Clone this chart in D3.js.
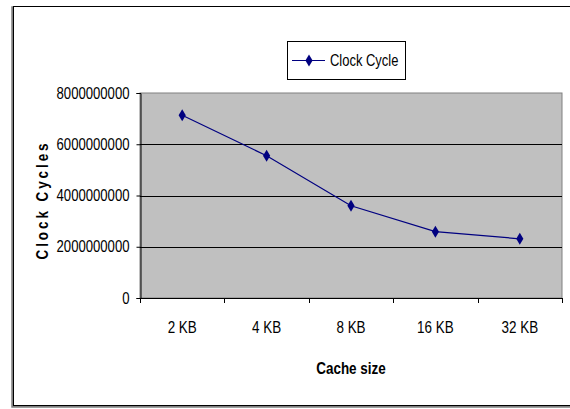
<!DOCTYPE html>
<html>
<head>
<meta charset="utf-8">
<script src="https://cdn.jsdelivr.net/npm/d3@7"></script>
<style>
  body { margin: 0; background: #fff; }
  svg text { font-family: "Liberation Sans", Arial, sans-serif; }
</style>
</head>
<body>
<div id="target"></div>
<script>
const categories = ["2 KB", "4 KB", "8 KB", "16 KB", "32 KB"]
const clockCycles = [7130000000, 5550000000, 3600000000, 2590000000, 2310000000]
const yTicks = [0, 2000000000, 4000000000, 6000000000, 8000000000]
const seriesName = "Clock Cycle"

const width = 570, height = 409
const plot = { left: 140, right: 562, top: 93, bottom: 298 }

const svg = d3.select("#target").append("svg")
    .attr("width", width)
    .attr("height", height)

// narrow look like the original (Arial Narrow not installed)
function squeeze(sel, k) {
    sel.each(function() {
        const len = this.getComputedTextLength()
        d3.select(this).attr("textLength", len * k).attr("lengthAdjust", "spacingAndGlyphs")
    })
}

// outer chart frame (with shadow on left/bottom)
svg.append("rect")
    .attr("x", 12.5).attr("y", 7.5)
    .attr("width", 580).attr("height", 399)
    .attr("fill", "none").attr("stroke", "#808080").attr("stroke-width", 2.5)
svg.append("rect")
    .attr("x", 13.5).attr("y", 6.5)
    .attr("width", 580).attr("height", 399)
    .attr("fill", "#fff").attr("stroke", "#000").attr("stroke-width", 1)

const x = d3.scaleBand()
    .domain(categories)
    .range([plot.left, plot.right])

const y = d3.scaleLinear()
    .domain([0, 8000000000])
    .range([plot.bottom, plot.top])

//Plot area
svg.append("rect")
    .attr("x", plot.left).attr("y", plot.top)
    .attr("width", plot.right - plot.left).attr("height", plot.bottom - plot.top)
    .attr("fill", "#c0c0c0")
    .attr("stroke", "#808080")

//Gridlines
svg.append("g")
    .selectAll("line")
    .data(yTicks.filter(d => d > 0 && d < 8000000000))
    .enter()
    .append("line")
    .attr("x1", plot.left).attr("x2", plot.right)
    .attr("y1", d => Math.round(y(d)) + 0.5).attr("y2", d => Math.round(y(d)) + 0.5)
    .attr("stroke", "#000")

//Y axis
const yAxis = svg.append("g")
    .attr("transform", "translate(" + (plot.left + 0.5) + ",0)")
    .call(d3.axisLeft(y).tickValues(yTicks).tickFormat(d3.format("d")).tickSize(4).tickPadding(7))
yAxis.select(".domain").attr("stroke", "#000")
yAxis.selectAll(".tick line").attr("stroke", "#000")
yAxis.selectAll("text").attr("font-size", 16).attr("fill", "#000").call(squeeze, 0.82)

//X axis
const xAxis = svg.append("g")
    .attr("transform", "translate(0," + (plot.bottom + 0.5) + ")")
    .call(d3.axisBottom(x).tickSize(0).tickPadding(23))
xAxis.select(".domain").attr("stroke", "#000").attr("d", "M" + plot.left + ",0H" + plot.right)
xAxis.selectAll("text").attr("font-size", 16).attr("fill", "#000").call(squeeze, 0.84)

svg.append("g")
    .selectAll("line")
    .data(categories.concat(["end"]))
    .enter()
    .append("line")
    .attr("x1", (d, i) => Math.round(plot.left + i * x.step()) + 0.5)
    .attr("x2", (d, i) => Math.round(plot.left + i * x.step()) + 0.5)
    .attr("y1", plot.bottom).attr("y2", plot.bottom + 5)
    .attr("stroke", "#000")

//Axis titles
svg.append("text")
    .attr("x", (plot.left + plot.right) / 2)
    .attr("y", 374)
    .attr("text-anchor", "middle")
    .attr("font-size", 16)
    .attr("font-weight", "bold")
    .text("Cache size")
    .call(squeeze, 0.84)

svg.append("text")
    .attr("transform", "translate(48," + 200 + ") rotate(-90)")
    .attr("text-anchor", "middle")
    .attr("font-size", 16)
    .attr("font-weight", "bold")
    .attr("letter-spacing", 3.5)
    .text("Clock Cycles")
    .call(squeeze, 0.84)

//Line
const line = d3.line()
    .x((d, i) => x(categories[i]) + x.bandwidth() / 2)
    .y(d => y(d))

svg.append("path")
    .attr("d", line(clockCycles))
    .attr("fill", "none")
    .attr("stroke", "#000080")
    .attr("stroke-width", 1.2)

const diamond = "M0,-6L3.6,0L0,6L-3.6,0Z"

svg.append("g")
    .selectAll("path")
    .data(clockCycles)
    .enter()
    .append("path")
    .attr("transform", (d, i) => "translate(" + (x(categories[i]) + x.bandwidth() / 2) + "," + y(d) + ")")
    .attr("d", diamond)
    .attr("fill", "#000080")

//Legend
const legend = svg.append("g").attr("transform", "translate(287,41)")
legend.append("rect")
    .attr("x", 0.5).attr("y", 0.5)
    .attr("width", 118).attr("height", 38)
    .attr("fill", "#fff").attr("stroke", "#000")
legend.append("line")
    .attr("x1", 5).attr("x2", 38).attr("y1", 19.5).attr("y2", 19.5)
    .attr("stroke", "#000080").attr("stroke-width", 1.2)
legend.append("path")
    .attr("transform", "translate(22,19.5)")
    .attr("d", diamond)
    .attr("fill", "#000080")
legend.append("text")
    .attr("x", 43).attr("y", 25)
    .attr("font-size", 16)
    .text(seriesName)
    .call(squeeze, 0.81)
</script>
</body>
</html>
